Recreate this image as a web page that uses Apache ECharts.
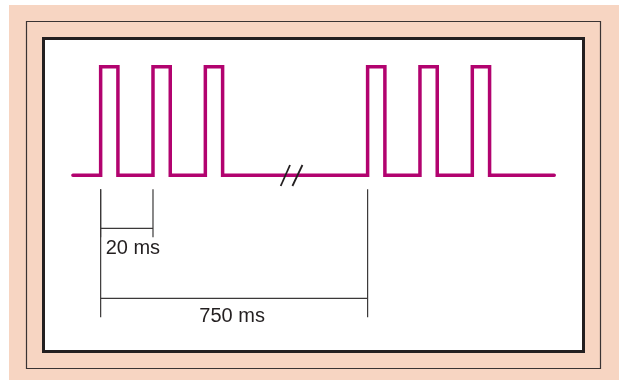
<!DOCTYPE html>
<html>
<head>
<meta charset="utf-8">
<script src="https://cdn.jsdelivr.net/npm/echarts@6/dist/echarts.min.js"></script>
<style>
  html, body { margin: 0; padding: 0; background: #fff; }
  #main { width: 619px; height: 380px; }
</style>
</head>
<body>
<div id="main"></div>
<script>
// pulse train data (ms)
var pulseStarts = [0, 20, 40, 750, 770, 790];
var pulseWidth = 6.6;
var lineSpan = [-10.6, 821.3];       // start / end of the trace
var levels = [0, 1];                 // low / high
var axisBreak = [68, 726];           // hidden part of the time axis

// dimension lines
var dimFrom = [0, 0];
var dimTo = [20, 750];
var dimLabels = ['20 ms', '750 ms'];

var pulseColor = '#b2036f';
var inkColor = '#231f20';

// build the square wave
var wave = [[lineSpan[0], levels[0]]];
pulseStarts.forEach(function (s) {
	wave.push([s, levels[0]]);
	wave.push([s, levels[1]]);
	wave.push([s + pulseWidth, levels[1]]);
	wave.push([s + pulseWidth, levels[0]]);
});
wave.push([lineSpan[1], levels[0]]);

var dimData = dimFrom.map(function (f, i) {
	return [f, dimTo[i], i];
});

var chart = echarts.init(document.getElementById('main'));

var option = {
	animation: false,
	backgroundColor: '#fff',
	graphic: [
		{ type: 'rect', z: -10, shape: { x: 9, y: 5, width: 610, height: 375 },
			style: { fill: '#f7d5c2' } },
		{ type: 'rect', z: -9, shape: { x: 26.5, y: 21.5, width: 574, height: 347 },
			style: { fill: 'none', stroke: '#3a3333', lineWidth: 1.2 } },
		{ type: 'rect', z: -8, shape: { x: 43.5, y: 38.5, width: 540, height: 313 },
			style: { fill: '#fff', stroke: inkColor, lineWidth: 3 } }
	],
	grid: { left: 48.3, right: 42, top: 39.55, bottom: 41.8 },
	xAxis: {
		type: 'value',
		min: -20,
		max: 830,
		breaks: [{ start: axisBreak[0], end: axisBreak[1], gap: 10 }],
		breakArea: { show: false },
		axisLine: { show: false },
		axisTick: { show: false },
		axisLabel: { show: false },
		splitLine: { show: false }
	},
	yAxis: {
		type: 'value',
		min: -1.5,
		max: 1.25,
		axisLine: { show: false },
		axisTick: { show: false },
		axisLabel: { show: false },
		splitLine: { show: false }
	},
	series: [
		{
			type: 'line',
			data: wave,
			symbol: 'none',
			z: 3,
			lineStyle: { color: pulseColor, width: 3.5, join: 'miter', cap: 'round' }
		},
		{
			// break mark //
			type: 'custom',
			data: [[axisBreak[0], axisBreak[1]]],
			z: 4,
			renderItem: function (params, api) {
				var a = api.coord([api.value(0), 0]);
				var b = api.coord([api.value(1), 0]);
				var mx = (a[0] + b[0]) / 2;
				var my = a[1];
				var st = { stroke: inkColor, lineWidth: 1.8 };
				return {
					type: 'group',
					children: [
						{ type: 'line', shape: { x1: mx - 11, y1: my + 10.7, x2: mx - 1.7, y2: my - 10.3 }, style: st },
						{ type: 'line', shape: { x1: mx + 0.7, y1: my + 10.7, x2: mx + 10.7, y2: my - 10.3 }, style: st }
					]
				};
			}
		},
		{
			// dimension lines
			type: 'custom',
			data: dimData,
			z: 4,
			renderItem: function (params, api) {
				var i = api.value(2);
				var p1 = api.coord([api.value(0), 0]);
				var p2 = api.coord([api.value(1), 0]);
				var base = p1[1];
				var lineY = i === 0 ? base + 53 : base + 123;
				var tickTop = base + 14;
				var tickBot = i === 0 ? lineY + 9 : lineY + 19;
				var st = { stroke: '#3b3838', lineWidth: 1.2 };
				var children = [
					{ type: 'line', shape: { x1: p1[0], y1: tickTop, x2: p1[0], y2: tickBot }, style: st },
					{ type: 'line', shape: { x1: p2[0], y1: tickTop, x2: p2[0], y2: tickBot }, style: st },
					{ type: 'line', shape: { x1: p1[0], y1: lineY, x2: p2[0], y2: lineY }, style: st }
				];
				children.push({
					type: 'text',
					style: {
						text: dimLabels[i],
						x: i === 0 ? p1[0] + 5 : (p1[0] + p2[0]) / 2 - 2,
						y: i === 0 ? lineY + 20 : lineY + 18,
						align: i === 0 ? 'left' : 'center',
						verticalAlign: 'middle',
						fill: inkColor,
						font: '20px "Liberation Sans", Arial, sans-serif'
					}
				});
				return { type: 'group', children: children };
			}
		}
	]
};

chart.setOption(option);
</script>
</body>
</html>
